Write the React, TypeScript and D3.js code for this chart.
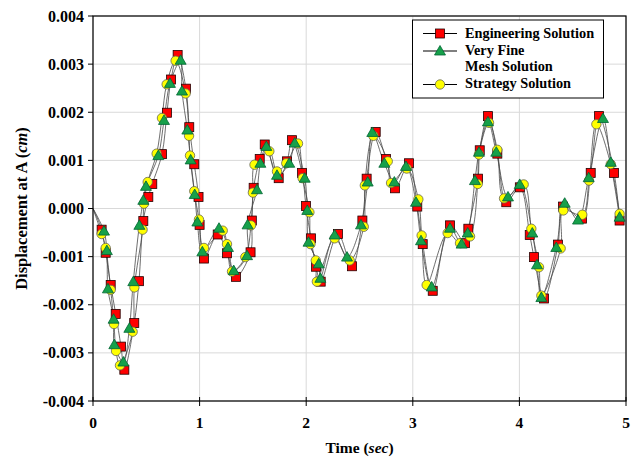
import * as d3 from "d3";

// time (s), displacement (cm)
const engineering: [number, number][] = [
  [0, 0], [0.081, -0.44e-3], [0.119, -0.92e-3], [0.166, -1.59e-3], [0.213, -2.19e-3],
  [0.263, -2.87e-3], [0.294, -3.35e-3], [0.387, -2.38e-3], [0.431, -1.51e-3], [0.472, -0.26e-3],
  [0.519, 0.24e-3], [0.556, 0.51e-3], [0.647, 1.13e-3], [0.694, 1.99e-3], [0.732, 2.68e-3],
  [0.794, 3.19e-3], [0.872, 2.49e-3], [0.903, 1.69e-3], [0.95, 0.92e-3], [0.99, 0.24e-3],
  [1.0, -0.34e-3], [1.041, -1.04e-3], [1.17, -0.54e-3], [1.257, -0.93e-3], [1.341, -1.42e-3],
  [1.478, -0.91e-3], [1.49, -0.25e-3], [1.507, 0.43e-3], [1.564, 1.03e-3], [1.611, 1.33e-3],
  [1.742, 0.63e-3], [1.82, 0.98e-3], [1.867, 1.42e-3], [1.961, 0.74e-3], [1.998, 0.05e-3],
  [2.045, -0.62e-3], [2.092, -1.21e-3], [2.136, -1.52e-3], [2.298, -0.53e-3], [2.43, -1.2e-3],
  [2.527, -0.25e-3], [2.567, 0.62e-3], [2.652, 1.59e-3], [2.749, 1.03e-3], [2.833, 0.42e-3],
  [2.964, 0.94e-3], [3.042, 0.04e-3], [3.093, -0.74e-3], [3.187, -1.71e-3], [3.349, -0.35e-3],
  [3.49, -0.72e-3], [3.521, -0.42e-3], [3.612, 0.62e-3], [3.628, 1.21e-3], [3.705, 1.92e-3],
  [3.793, 1.14e-3], [3.877, 0.13e-3], [4.004, 0.44e-3], [4.097, -0.55e-3], [4.137, -1.01e-3],
  [4.231, -1.87e-3], [4.362, -0.75e-3], [4.409, 0.04e-3], [4.587, -0.21e-3], [4.669, 0.74e-3],
  [4.747, 1.92e-3], [4.888, 0.74e-3], [4.94, -0.25e-3],
];

const veryFine: [number, number][] = [
  [0, 0], [0.103, -0.47e-3], [0.13, -0.875e-3], [0.14, -1.67e-3], [0.193, -2.3e-3],
  [0.2, -2.83e-3], [0.285, -3.19e-3], [0.341, -2.49e-3], [0.378, -1.52e-3], [0.435, -0.35e-3],
  [0.472, 0.17e-3], [0.497, 0.46e-3], [0.613, 1.1e-3], [0.666, 1.83e-3], [0.722, 2.6e-3],
  [0.822, 3.08e-3], [0.835, 2.44e-3], [0.885, 1.63e-3], [0.916, 1.01e-3], [0.954, 0.29e-3],
  [0.979, -0.28e-3], [1.026, -0.9e-3], [1.182, -0.41e-3], [1.266, -0.81e-3], [1.32, -1.29e-3],
  [1.445, -0.98e-3], [1.45, -0.34e-3], [1.538, 0.39e-3], [1.57, 0.94e-3], [1.626, 1.29e-3],
  [1.726, 0.69e-3], [1.841, 0.94e-3], [1.892, 1.36e-3], [1.986, 0.63e-3], [2.01, -0.04e-3],
  [2.022, -0.7e-3], [2.117, -1.15e-3], [2.133, -1.45e-3], [2.267, -0.55e-3], [2.383, -1.01e-3],
  [2.514, -0.34e-3], [2.577, 0.55e-3], [2.62, 1.58e-3], [2.733, 0.94e-3], [2.827, 0.55e-3],
  [2.936, 0.875e-3], [3.03, 0.13e-3], [3.077, -0.67e-3], [3.177, -1.63e-3], [3.349, -0.41e-3],
  [3.458, -0.74e-3], [3.515, -0.51e-3], [3.583, 0.58e-3], [3.621, 1.17e-3], [3.705, 1.8e-3],
  [3.783, 1.17e-3], [3.893, 0.24e-3], [4.003, 0.5e-3], [4.121, -0.51e-3], [4.165, -1.17e-3],
  [4.206, -1.85e-3], [4.346, -0.81e-3], [4.425, 0.11e-3], [4.55, -0.24e-3], [4.65, 0.64e-3],
  [4.784, 1.87e-3], [4.857, 0.96e-3], [4.94, -0.18e-3],
];

const strategy: [number, number][] = [
  [0, 0], [0.081, -0.53e-3], [0.119, -0.82e-3], [0.166, -1.69e-3], [0.197, -2.4e-3],
  [0.216, -2.96e-3], [0.253, -3.26e-3], [0.372, -2.56e-3], [0.388, -1.64e-3], [0.465, -0.44e-3],
  [0.478, 0.1e-3], [0.513, 0.55e-3], [0.597, 1.14e-3], [0.647, 1.88e-3], [0.691, 2.58e-3],
  [0.775, 3.07e-3], [0.869, 2.39e-3], [0.901, 1.51e-3], [0.91, 1.1e-3], [0.95, 0.36e-3],
  [0.994, -0.23e-3], [1.041, -0.82e-3], [1.217, -0.46e-3], [1.257, -0.74e-3], [1.304, -1.31e-3],
  [1.429, -1.01e-3], [1.482, -0.35e-3], [1.5, 0.33e-3], [1.515, 0.91e-3], [1.654, 1.19e-3],
  [1.726, 0.77e-3], [1.813, 0.94e-3], [1.923, 1.35e-3], [1.967, 0.63e-3], [2.03, -0.08e-3],
  [2.04, -0.74e-3], [2.09, -1.08e-3], [2.1, -1.52e-3], [2.267, -0.62e-3], [2.408, -1.08e-3],
  [2.54, -0.38e-3], [2.55, 0.48e-3], [2.63, 1.51e-3], [2.765, 0.98e-3], [2.796, 0.53e-3],
  [2.943, 0.83e-3], [3.052, 0.19e-3], [3.083, -0.56e-3], [3.13, -1.59e-3], [3.327, -0.51e-3],
  [3.443, -0.72e-3], [3.537, -0.58e-3], [3.609, 0.51e-3], [3.62, 1.12e-3], [3.715, 1.78e-3],
  [3.793, 1.22e-3], [3.856, 0.21e-3], [4.04, 0.5e-3], [4.112, -0.42e-3], [4.184, -1.22e-3],
  [4.206, -1.81e-3], [4.387, -0.83e-3], [4.412, -0.04e-3], [4.59, -0.13e-3], [4.653, 0.58e-3],
  [4.722, 1.75e-3], [4.857, 0.92e-3], [4.94, -0.11e-3],
];

const xTicks = [0, 1, 2, 3, 4, 5];
const yTicks = [-0.004, -0.003, -0.002, -0.001, 0, 0.001, 0.002, 0.003, 0.004];
const yTickLabels = ["-0.004", "-0.003", "-0.002", "-0.001", "0.000", "0.001", "0.002", "0.003", "0.004"];
const legendNames = ["Engineering Solution", "Very Fine", "Mesh Solution", "Strategy Solution"];

const W = 640;
const H = 461;
const left = 93, right = 626, top = 16, bottom = 401;
const font = "'Liberation Serif', 'Times New Roman', serif";

const RED = "#ff0000";
const GREEN = "#16a04a";
const YELLOW = "#ffff00";
const LINE = "#4a4a4a";

function Square({ x, y }: { x: number; y: number }) {
  return <rect x={x - 4.5} y={y - 4.5} width={9} height={9} fill={RED} stroke="#200" strokeWidth={0.8} />;
}
function Triangle({ x, y }: { x: number; y: number }) {
  return (
    <path
      d={`M${x},${y - 5.5}L${x + 5.5},${y + 4}L${x - 5.5},${y + 4}Z`}
      fill={GREEN}
      stroke="#063"
      strokeWidth={0.8}
    />
  );
}
function Circle({ x, y }: { x: number; y: number }) {
  return <circle cx={x} cy={y} r={4.7} fill={YELLOW} stroke="#665" strokeWidth={0.8} />;
}

export default function App() {
  const x = d3.scaleLinear().domain([0, 5]).range([left, right]);
  const y = d3.scaleLinear().domain([-0.004, 0.004]).range([bottom, top]);

  const line = d3
    .line<[number, number]>()
    .x((d) => x(d[0]))
    .y((d) => y(d[1]))
    .curve(d3.curveCatmullRom.alpha(0.5));

  const marks = (data: [number, number][]) => data.filter((d) => d[0] > 0);

  const lx0 = 423, lx1 = 457, lmx = 440, ltx = 465;

  return (
    <div style={{ position: "absolute", left: 0, top: 0 }}>
      <svg width={W} height={H} style={{ display: "block", background: "#fff" }}>
        {/* grid */}
        {yTicks.map((t) => (
          <line key={"gy" + t} x1={left} x2={right} y1={y(t)} y2={y(t)} stroke="#d9d9d9" strokeWidth={1} />
        ))}
        {xTicks.map((t) => (
          <line key={"gx" + t} x1={x(t)} x2={x(t)} y1={top} y2={bottom} stroke="#d9d9d9" strokeWidth={1} />
        ))}

        {/* series lines */}
        <path d={line(engineering) || ""} fill="none" stroke={LINE} strokeWidth={0.8} />
        <path d={line(veryFine) || ""} fill="none" stroke={LINE} strokeWidth={0.8} />
        <path d={line(strategy) || ""} fill="none" stroke={LINE} strokeWidth={0.8} />

        {/* markers */}
        {marks(engineering).map((d, i) => (
          <Square key={"e" + i} x={x(d[0])} y={y(d[1])} />
        ))}
        {marks(strategy).map((d, i) => (
          <Circle key={"s" + i} x={x(d[0])} y={y(d[1])} />
        ))}
        {marks(veryFine).map((d, i) => (
          <Triangle key={"v" + i} x={x(d[0])} y={y(d[1])} />
        ))}

        {/* frame */}
        <rect x={left} y={top} width={right - left} height={bottom - top} fill="none" stroke="#000" strokeWidth={1.2} />

        {/* y axis ticks & labels */}
        {yTicks.map((t, i) => (
          <g key={"yt" + t}>
            <line x1={left - 5} x2={left} y1={y(t)} y2={y(t)} stroke="#000" />
            <text
              x={left - 9}
              y={y(t)}
              dy="0.35em"
              textAnchor="end"
              fontFamily={font}
              fontWeight="bold"
              fontSize={16}
            >
              {yTickLabels[i]}
            </text>
          </g>
        ))}

        {/* x axis ticks & labels */}
        {xTicks.map((t) => (
          <g key={"xt" + t}>
            <line x1={x(t)} x2={x(t)} y1={bottom - 4} y2={bottom + 5} stroke="#000" />
            <text
              x={x(t)}
              y={428}
              textAnchor="middle"
              fontFamily={font}
              fontWeight="bold"
              fontSize={15.5}
            >
              {t}
            </text>
          </g>
        ))}

        {/* axis titles */}
        <text x={(left + right) / 2} y={453} textAnchor="middle" fontFamily={font} fontWeight="bold" fontSize={15.5}>
          Time (<tspan fontStyle="italic">sec</tspan>)
        </text>
        <text
          transform={`translate(27,${(top + bottom) / 2}) rotate(-90)`}
          textAnchor="middle"
          fontFamily={font}
          fontWeight="bold"
          fontSize={16.5}
        >
          Displacement at A (<tspan fontStyle="italic">cm</tspan>)
        </text>

        {/* legend */}
        <rect x={412.5} y={20} width={191} height={78} fill="#fff" stroke="#000" strokeWidth={1} />
        <line x1={lx0} x2={lx1} y1={33.5} y2={33.5} stroke="#000" strokeWidth={1.2} />
        <Square x={lmx} y={33.5} />
        <line x1={lx0} x2={lx1} y1={51} y2={51} stroke="#000" strokeWidth={1.2} />
        <Triangle x={lmx} y={51} />
        <line x1={lx0} x2={lx1} y1={84.5} y2={84.5} stroke="#000" strokeWidth={1.2} />
        <Circle x={lmx} y={84.5} />
        {[37.8, 54.5, 71, 88.3].map((by, i) => (
          <text key={"lg" + i} x={ltx} y={by} fontFamily={font} fontWeight="bold" fontSize={14.3}>
            {legendNames[i]}
          </text>
        ))}
      </svg>
    </div>
  );
}
